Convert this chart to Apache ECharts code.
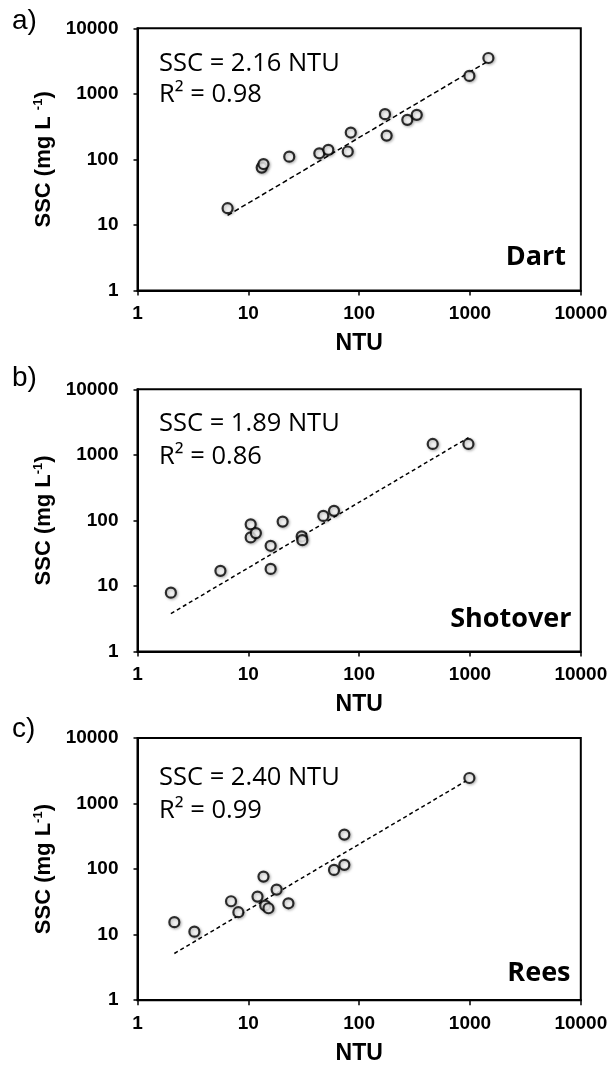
<!DOCTYPE html>
<html>
<head>
<meta charset="utf-8">
<script src="https://cdn.jsdelivr.net/npm/echarts@6/dist/echarts.min.js"></script>
<style>
html,body{margin:0;padding:0;background:#fff;}
#chart{width:612px;height:1068px;}
</style>
</head>
<body>
<div id="chart"></div>
<script>
// Tick labels (log axes)
const tickValues = [1, 10, 100, 1000, 10000];

// Panel a) Dart
const dartNTU = [6.5, 13.2, 13.7, 23.4, 43.7, 52.7, 78.9, 84, 171, 177, 272, 331, 988, 1466];
const dartSSC = [18, 75, 85, 110, 124, 140, 132, 257, 490, 231, 401, 478, 1880, 3520];
const dartFitNTU = [6.5, 1466];
const dartFitSSC = [14.0, 3167];

// Panel b) Shotover
const shotNTU = [2.0, 5.6, 10.5, 10.5, 11.7, 15.9, 15.9, 20.4, 30.3, 30.7, 47.5, 59.3, 461, 968];
const shotSSC = [7.9, 17, 87, 55, 64, 41, 18.2, 96, 57, 50, 117, 140, 1466, 1466];
const shotFitNTU = [2.0, 968];
const shotFitSSC = [3.78, 1830];

// Panel c) Rees
const reesNTU = [2.15, 3.26, 6.98, 8.13, 12.1, 13.7, 14.2, 15.2, 18.0, 23.0, 59.3, 73.5, 73.5, 988];
const reesSSC = [15.5, 11.1, 32.3, 22.0, 38.1, 76.9, 27.8, 25.3, 48.7, 30.1, 97.2, 116, 336, 2455];
const reesFitNTU = [2.15, 988];
const reesFitSSC = [5.16, 2371];

const panelLetters = ['a)', 'b)', 'c)'];
const rivers = ['Dart', 'Shotover', 'Rees'];
const equations = ['SSC = 2.16 NTU', 'SSC = 1.89 NTU', 'SSC = 2.40 NTU'];
const r2Texts = ['R\u00B2 = 0.98', 'R\u00B2 = 0.86', 'R\u00B2 = 0.99'];
const yNameTexts = ['SSC (mg L {sup|-1})', 'SSC (mg L{sup|-1})', 'SSC (mg L{sup|-1})'];
const xName = 'NTU';

const panels = [
  {x: dartNTU, y: dartSSC, fx: dartFitNTU, fy: dartFitSSC, dash: [5, 3]},
  {x: shotNTU, y: shotSSC, fx: shotFitNTU, fy: shotFitSSC, dash: [4, 3]},
  {x: reesNTU, y: reesSSC, fx: reesFitNTU, fy: reesFitSSC, dash: [4, 3]}
];

// layout
const gridTops = [28.3, 389.3, 738];
const gridH = 262.2;
const gridLeft = 137.5;
const gridW = 443.3;

const eqY = [[63.3, 95], [423.3, 456.8], [777.5, 811]];
const riverY = [257.3, 619.2, 973.8];
const riverRight = [566, 571.5, 570.5];
const letterY = [21, 378, 729];

const grids = [], xAxes = [], yAxes = [], series = [], graphics = [];
const tickFmt = v => String(Math.round(v));

panels.forEach((p, i) => {
  grids.push({left: gridLeft, top: gridTops[i], width: gridW, height: gridH,
    show: true, borderColor: '#000', borderWidth: 2, backgroundColor: 'transparent'});
  xAxes.push({
    type: 'log', logBase: 10, min: 1, max: 10000, gridIndex: i,
    name: xName, nameLocation: 'middle', nameGap: 42,
    nameTextStyle: {fontFamily: 'Liberation Sans', fontWeight: 'bold', fontSize: 23, color: '#000'},
    axisLine: {show: true, lineStyle: {color: '#000', width: 2}},
    axisTick: {show: true, inside: false, length: 5, lineStyle: {color: '#000', width: 1.5}},
    minorTick: {show: false},
    splitLine: {show: false},
    axisLabel: {formatter: tickFmt, margin: 14, fontFamily: 'Liberation Sans', fontWeight: 'bold', fontSize: 19, color: '#000', showMinLabel: true, showMaxLabel: true}
  });
  yAxes.push({
    type: 'log', logBase: 10, min: 1, max: 10000, gridIndex: i,
    name: yNameTexts[i], nameLocation: 'middle', nameGap: 76, nameRotate: 90,
    nameTextStyle: {fontFamily: 'Liberation Sans', fontWeight: 'bold', fontSize: 22, color: '#000',
      rich: {sup: {fontFamily: 'Liberation Sans', fontWeight: 'bold', fontSize: 13, color: '#000', verticalAlign: 'top', padding: [0, 0, 10, 0]}}},
    axisLine: {show: true, lineStyle: {color: '#000', width: 2}},
    axisTick: {show: true, inside: false, length: 4, lineStyle: {color: '#000', width: 1.5}},
    splitLine: {show: false},
    axisLabel: {formatter: tickFmt, margin: 19, fontFamily: 'Liberation Sans', fontWeight: 'bold', fontSize: 19, color: '#000', showMinLabel: true, showMaxLabel: true}
  });
  series.push({
    type: 'line', xAxisIndex: i, yAxisIndex: i, showSymbol: false, symbol: 'none',
    data: p.fx.map((v, k) => [v, p.fy[k]]),
    lineStyle: {color: '#000', width: 1.5, type: p.dash}, z: 2, silent: true, animation: false
  });
  series.push({
    type: 'scatter', xAxisIndex: i, yAxisIndex: i, symbol: 'circle', symbolSize: 10,
    data: p.x.map((v, k) => [v, p.y[k]]),
    itemStyle: {color: '#fff', borderColor: '#000', borderWidth: 2.2,
      shadowBlur: 3, shadowColor: 'rgba(0,0,0,0.35)', shadowOffsetX: 1, shadowOffsetY: 1},
    z: 3, animation: false
  });
  graphics.push({type: 'text', style: {text: panelLetters[i], x: 12, y: letterY[i], fill: '#000',
    font: '28px "Liberation Sans"', textAlign: 'left', verticalAlign: 'middle'}});
  graphics.push({type: 'text', style: {text: equations[i], x: 159, y: eqY[i][0], fill: '#000',
    font: '25.5px "Open Sans"', textAlign: 'left', verticalAlign: 'middle'}});
  graphics.push({type: 'text', style: {text: r2Texts[i], x: 159, y: eqY[i][1], fill: '#000',
    font: '25.5px "Open Sans"', textAlign: 'left', verticalAlign: 'middle'}});
  graphics.push({type: 'text', style: {text: rivers[i], x: riverRight[i], y: riverY[i], fill: '#000',
    font: 'bold 27px "Open Sans"', textAlign: 'right', verticalAlign: 'middle'}});
});

const chart = echarts.init(document.getElementById('chart'), null, {renderer: 'canvas'});
chart.setOption({
  backgroundColor: '#fff',
  animation: false,
  grid: grids,
  xAxis: xAxes,
  yAxis: yAxes,
  series: series,
  graphic: graphics
});
</script>
</body>
</html>
